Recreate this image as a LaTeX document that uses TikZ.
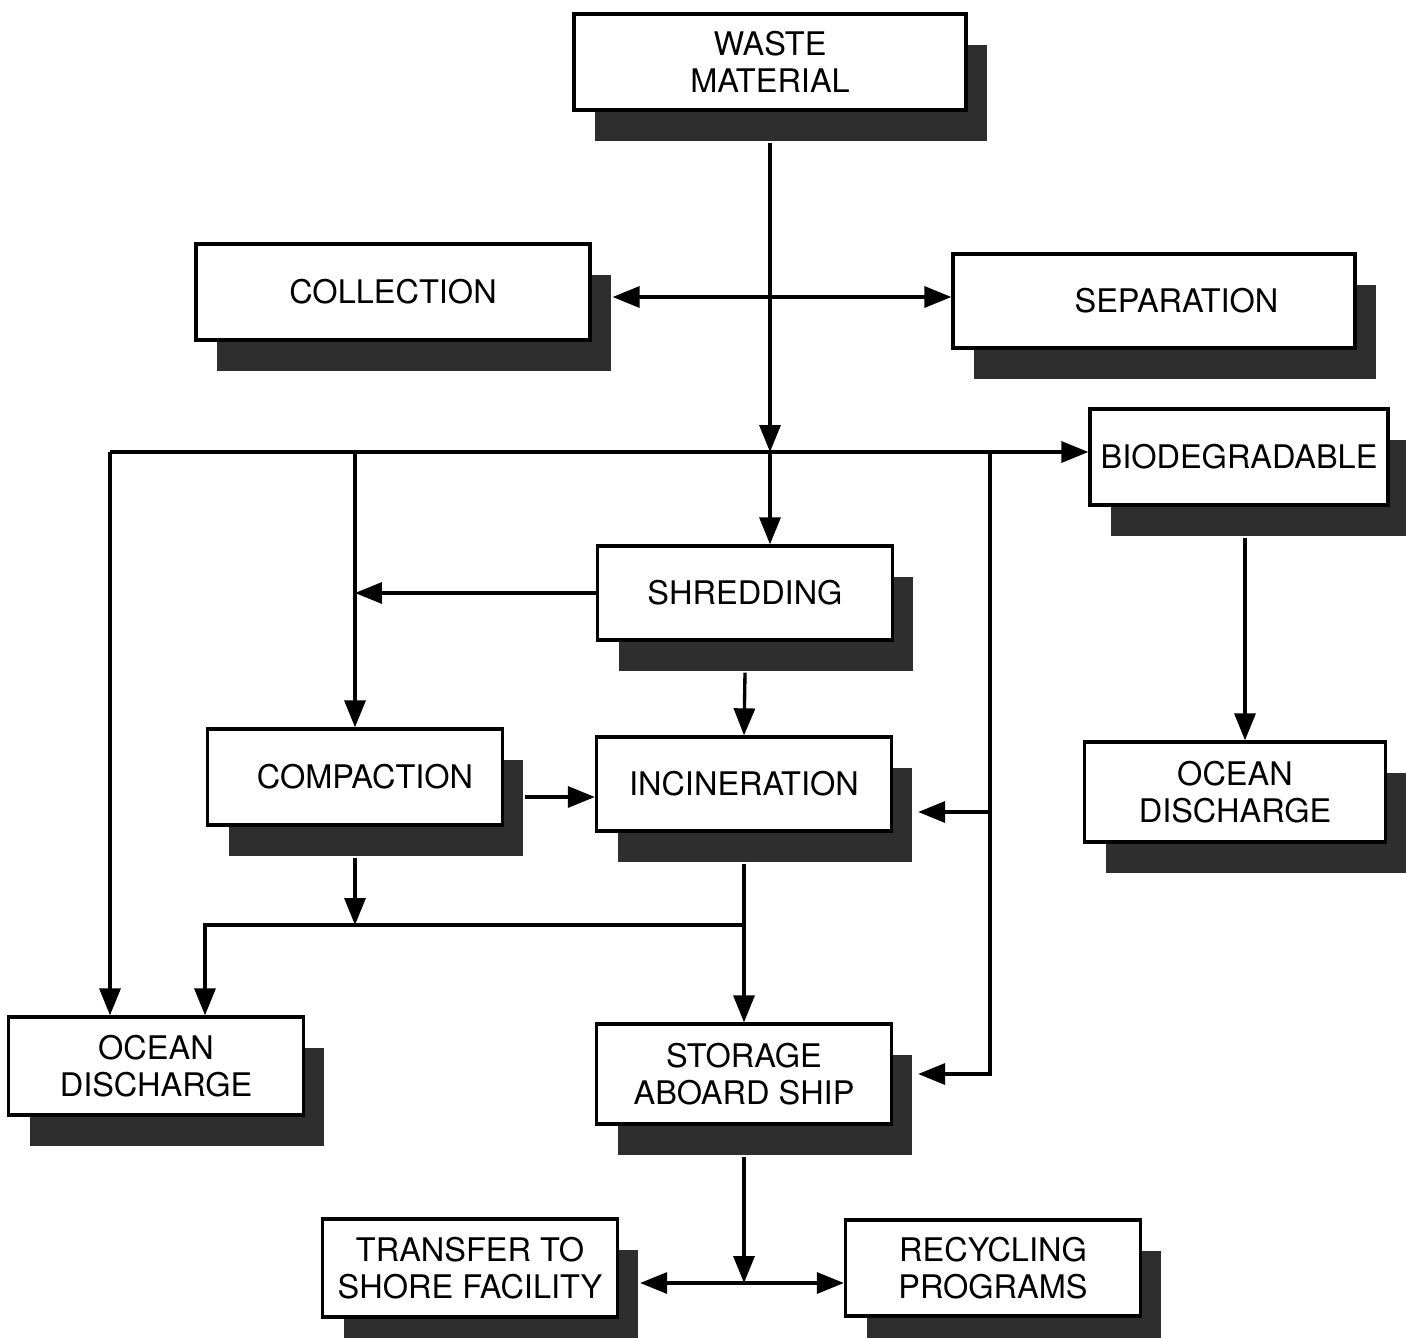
\documentclass[tikz,border=0pt]{standalone}
\usepackage{fontspec}
\setmainfont{TeX Gyre Heros}
\usetikzlibrary{shadows,arrows.meta}
\def\sx{0.42cm}
\def\sy{0.62cm}
\tikzstyle{box}=[draw, line width=1.9pt, fill=white, minimum width=5.9cm, minimum height=1.92cm,
  inner sep=2pt, align=center, font=\fontsize{18.5}{21}\selectfont,
  drop shadow={shadow xshift=\sx, shadow yshift=-\sy, fill=black!82, opacity=1}]
\tikzstyle{flow}=[line width=1.9pt, -{Triangle[length=0.54cm,width=0.42cm]}]
\tikzstyle{flowboth}=[line width=1.9pt, {Triangle[length=0.54cm,width=0.42cm]}-{Triangle[length=0.54cm,width=0.42cm]}]

\begin{document}
\begin{tikzpicture}[x=0.02cm, y=-0.02cm]
\useasboundingbox (0,0) rectangle (1406,1338);
% Boxes
    \node[box, minimum width=7.84cm] (waste) at (770,62) {WASTE\\MATERIAL};
    \node[box, minimum width=7.88cm] (collect) at (393,292) {COLLECTION};
    \node[box, minimum width=8.04cm, minimum height=1.88cm] (separ) at (1154,301) {\hspace*{0.9cm}SEPARATION};
    \node[box, minimum width=5.96cm] (biodeg) at (1239,457) {BIODEGRADABLE};
    \node[box, minimum height=1.88cm] (shred) at (745,593) {SHREDDING};
    \node[box] (compact) at (355,777) {\hspace*{0.4cm}COMPACTION};
    \node[box, minimum height=1.88cm] (incin) at (744,784) {INCINERATION};
    \node[box, minimum width=6.02cm, minimum height=2cm] (oceanR) at (1235,792) {OCEAN\\DISCHARGE};
    \node[box, minimum height=1.96cm] (oceanL) at (156,1066) {OCEAN\\DISCHARGE};
    \node[box, minimum height=2cm] (storage) at (744,1074) {STORAGE\\ABOARD SHIP};
    \node[box, minimum height=1.96cm] (transfer) at (470,1268) {TRANSFER TO\\SHORE FACILITY};
    \node[box] (recyc) at (993,1268) {RECYCLING\\PROGRAMS};
% Junctions
    \coordinate (jmid) at (770,297);
    \coordinate (busL) at (110,452);
    \coordinate (jtop) at (770,452);
    \coordinate (busR) at (990,452);
    \coordinate (jlow) at (744,925);
    \coordinate (jleft) at (205,925);
    \coordinate (jbot) at (744,1283);
% Main line from the waste
    \draw[flow] ([yshift=-\sy]waste.south) -- (jtop);
    \draw[flow] (jtop) -- (jtop |- shred.north);
    \draw[flowboth] ([xshift=\sx]collect.east |- jmid) -- (separ.west |- jmid);
% Bus to the disposal paths
    \draw[flow] (busL) -- (busL -| biodeg.west);
    \draw[flow] (busL) -- (busL |- oceanL.north);
    \draw[flow] (compact.north |- busL) -- (compact.north);
    \draw[flow] (busR) -- (busR |- storage.east) -- ([xshift=0.5cm]storage.east);
    \draw[flow] ([yshift=-0.56cm]incin.east -| busR) -- ([xshift=0.5cm,yshift=-0.56cm]incin.east);
% Processing
    \draw[flow] (shred.west) -- (shred.west -| compact.north);
    \draw[flow] ([yshift=-\sy]shred.south) -- (incin.north);
    \draw[flow] ([xshift=\sx,yshift=-0.4cm]compact.east) -- ([yshift=-0.4cm]compact.east -| incin.west);
    \draw[flow] ([yshift=-\sy]compact.south) -- (compact.south |- jlow);
    \draw[flow] ([yshift=-\sy]incin.south) -- (storage.north);
    \draw[flow] (jlow) -- (jleft) -- (jleft |- oceanL.north);
    \draw[flow] ([xshift=0.12cm,yshift=-\sy]biodeg.south) -- ([xshift=0.12cm]biodeg.south |- oceanR.north);
% From storage
    \draw[flow] ([yshift=-\sy]storage.south) -- (jbot);
    \draw[flowboth] ([xshift=\sx]transfer.east |- jbot) -- (recyc.west |- jbot);
\end{tikzpicture}
\end{document}
